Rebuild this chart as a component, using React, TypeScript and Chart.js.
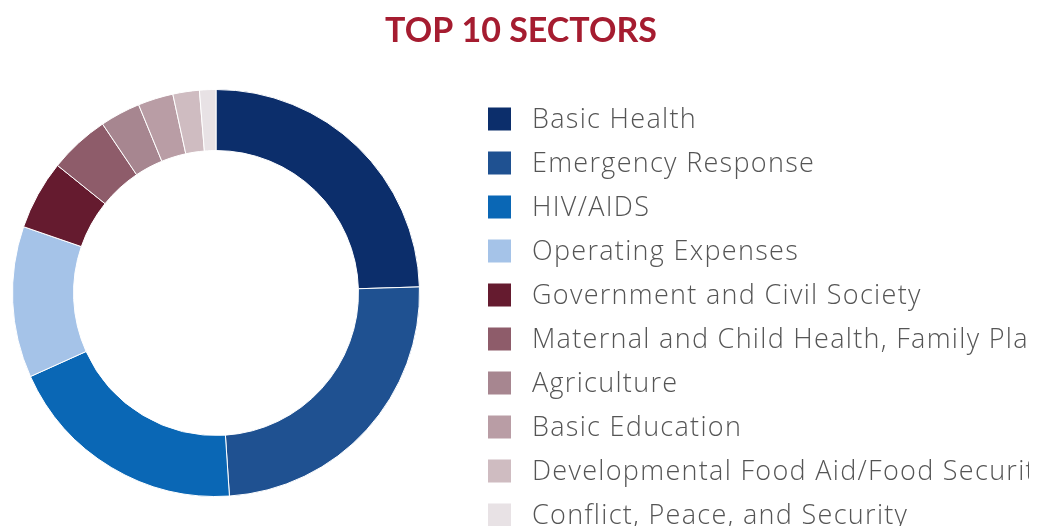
import React, { useEffect, useRef } from "react";
import { Chart, registerables, Plugin } from "chart.js";

Chart.register(...registerables);

const sectors = [
  "Basic Health",
  "Emergency Response",
  "HIV/AIDS",
  "Operating Expenses",
  "Government and Civil Society",
  "Maternal and Child Health, Family Planning",
  "Agriculture",
  "Basic Education",
  "Developmental Food Aid/Food Security",
  "Conflict, Peace, and Security",
];

// Share of funding by sector (percent)
const shares = [24.5, 24.4, 19.3, 12.0, 5.5, 4.8, 3.2, 2.8, 2.1, 1.3];

const sectorColors = [
  "#0c2e6b",
  "#1f5191",
  "#0a67b5",
  "#a5c3e8",
  "#651b2f",
  "#8e5c6a",
  "#a78690",
  "#b99da5",
  "#cfbcc1",
  "#e8e2e5",
];

const titleText = "TOP 10 SECTORS";

// Heading centred over the whole panel, plus a square-marker legend to the
// right of the ring, clipped at the panel edge
const panelDecor: Plugin<"doughnut"> = {
  id: "panelDecor",
  afterDraw(chart) {
    const ctx = chart.ctx as CanvasRenderingContext2D & { letterSpacing?: string };
    ctx.save();
    ctx.font = "bold 34px Lato, sans-serif";
    ctx.fillStyle = "#a51c30";
    ctx.textAlign = "center";
    ctx.textBaseline = "alphabetic";
    ctx.fillText(titleText, 521, 42);
    ctx.restore();

    const labels = (chart.data.labels || []) as string[];
    const colors = chart.data.datasets[0].backgroundColor as string[];
    const boxX = 488;
    const box = 23;
    const textX = 532;
    const firstY = 119;
    const step = 44;
    ctx.save();
    ctx.beginPath();
    ctx.rect(0, 0, 1029, chart.height);
    ctx.clip();
    ctx.font = "300 27px 'Open Sans', Lato, sans-serif";
    ctx.letterSpacing = "1.3px";
    ctx.textBaseline = "alphabetic";
    ctx.textAlign = "left";
    labels.forEach((label, i) => {
      const cy = firstY + i * step;
      ctx.fillStyle = colors[i];
      ctx.fillRect(boxX, cy - box / 2, box, box);
      ctx.fillStyle = "#555555";
      ctx.fillText(label, textX, cy + 9);
    });
    ctx.restore();
  },
};

export default function App() {
  const canvasRef = useRef<HTMLCanvasElement | null>(null);

  useEffect(() => {
    if (!canvasRef.current) return;
    const chart = new Chart(canvasRef.current, {
      type: "doughnut",
      data: {
        labels: sectors,
        datasets: [
          {
            data: shares,
            backgroundColor: sectorColors,
            borderColor: "#ffffff",
            borderWidth: 1,
          },
        ],
      },
      options: {
        animation: false,
        responsive: true,
        maintainAspectRatio: false,
        cutout: "70%",
        layout: {
          padding: { left: 12, right: 618, top: 89, bottom: 29 },
        },
        plugins: {
          legend: { display: false },
          tooltip: { enabled: false },
          title: { display: false },
        },
      },
      plugins: [panelDecor],
    });
    return () => chart.destroy();
  }, []);

  return (
    <div
      style={{
        position: "absolute",
        left: 0,
        top: 0,
        width: 1038,
        height: 526,
        background: "#ffffff",
      }}
    >
      <canvas ref={canvasRef} />
    </div>
  );
}
